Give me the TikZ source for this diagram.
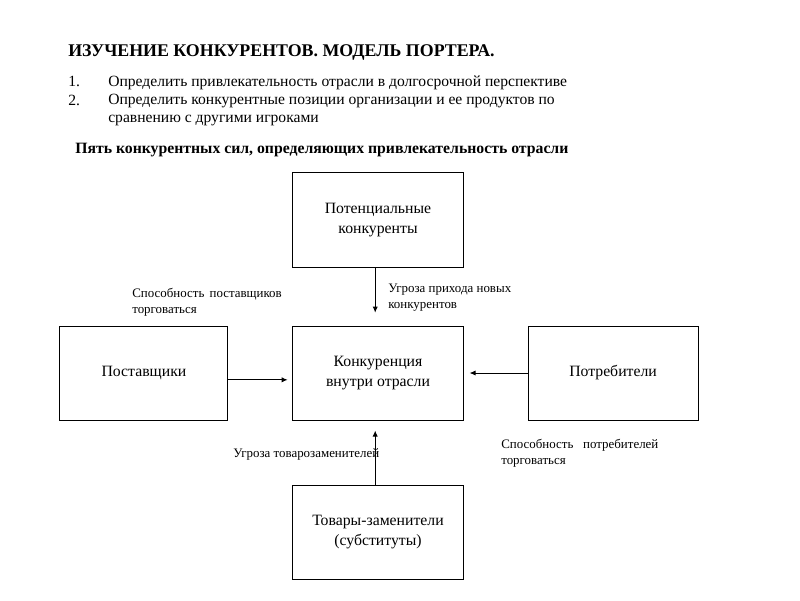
\documentclass[tikz,border=0pt]{standalone}
\usepackage{fontspec}
\setmainfont{Liberation Serif}
\usetikzlibrary{positioning}
\usetikzlibrary{arrows.meta}
\tikzset{%
  % Specifications for style of nodes:
    >={Latex[width=1.3mm,length=1.5mm]},
    force/.style={draw, line width=0.7pt, minimum width=4.25cm, minimum height=2.35cm,
        align=center, inner sep=0, font=\fontsize{11.2}{13.6}\selectfont},
    note/.style={anchor=base west, align=left, inner sep=0, font=\fontsize{9.2}{11.2}\selectfont},
    line/.style={anchor=base west, align=left, inner sep=0, font=\fontsize{11.1}{12.2}\selectfont},
}

\begin{document}
\begin{tikzpicture}[x=0.025cm, y=-0.025cm]
    \useasboundingbox (0,0) rectangle (800,600);
    % heading and list (base anchor = last line of a node)
    \node[anchor=base west, inner sep=0, font=\bfseries\fontsize{12.7}{15}\selectfont] (title) at (68,56)
        {ИЗУЧЕНИЕ КОНКУРЕНТОВ. МОДЕЛЬ ПОРТЕРА.};
    \node[line] (n1) at (68,86) {1.};
    \node[line] (i1) at (108,86) {Определить привлекательность отрасли в долгосрочной перспективе};
    \node[line] (n2) at (68,105) {2.};
    \node[line] (i2) at (108,122) {Определить конкурентные позиции организации и ее продуктов по\\
        сравнению с другими игроками};
    \node[anchor=base west, inner sep=0, font=\bfseries\fontsize{11.2}{13}\selectfont] (sub) at (75,153)
        {Пять конкурентных сил, определяющих привлекательность отрасли};
    % the five forces
    \node[force] (rivals) at (378,373) {Конкуренция\\внутри отрасли};
    \node[force, above=1.45cm of rivals] (entrants) {Потенциальные\\конкуренты};
    \node[force, below=1.6cm of rivals] (subst) {Товары-заменители\\(субституты)};
    \node[force, left=1.6cm of rivals, minimum width=4.2cm] (suppliers) {Поставщики};
    \node[force, right=1.6cm of rivals] (buyers) {Потребители};
    \draw[->, line width=0.7pt] ([xshift=-0.07cm]entrants.south) -- ([xshift=-0.07cm, yshift=0.32cm]rivals.north);
    \draw[->, line width=0.7pt] ([xshift=-0.07cm]subst.north) -- ([xshift=-0.07cm, yshift=-0.25cm]rivals.south);
    \draw[->, line width=0.7pt] ([yshift=-0.17cm]suppliers.east) -- ([xshift=-0.12cm, yshift=-0.17cm]rivals.west);
    \draw[->, line width=0.7pt] (buyers.west) -- ([xshift=0.15cm]rivals.east);
    % labels of the forces
    \node[note] (l1) at (132,313) {Способность\hspace{0.15em} поставщиков\\торговаться};
    \node[note] (l2) at (388,308) {Угроза прихода новых\\конкурентов};
    \node[note] (l3) at (233,457) {Угроза товарозаменителей};
    \node[note] (l4) at (501,464) {Способность\hspace{0.5em} потребителей\\торговаться};
\end{tikzpicture}
\end{document}
